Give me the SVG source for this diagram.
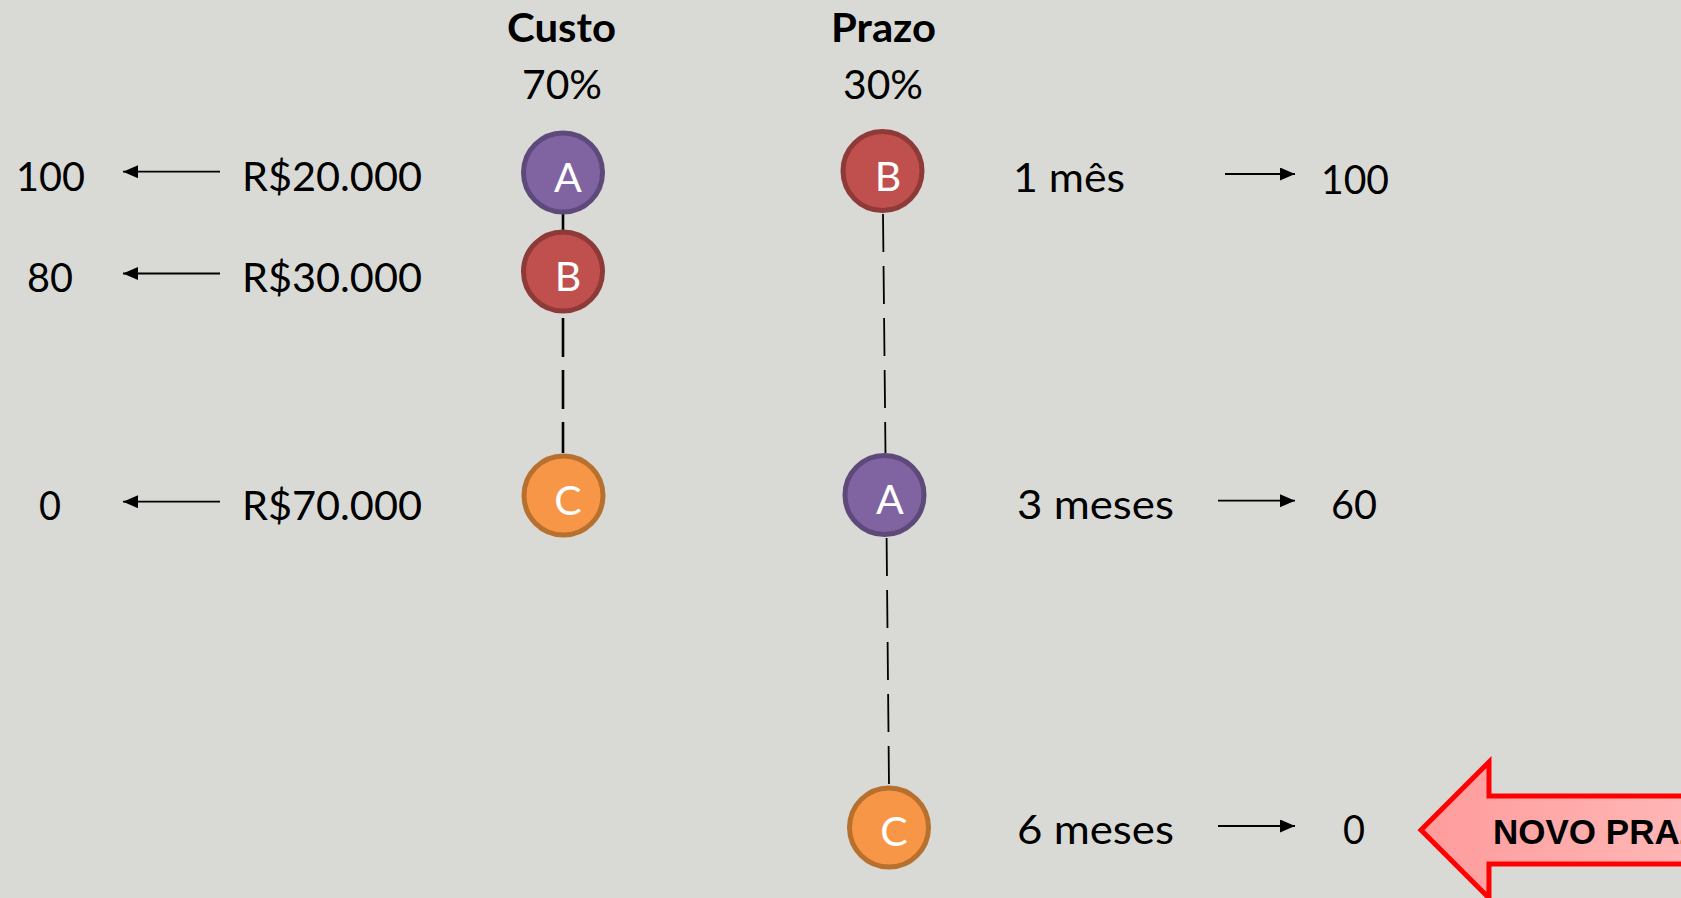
<svg xmlns="http://www.w3.org/2000/svg" width="1681" height="898" viewBox="0 0 1681 898">
<style>
.t{font-family:Lato,"Open Sans","Liberation Sans",sans-serif;font-size:41px;fill:#000}
.b{font-weight:bold}
.l{font-family:Lato,"Open Sans","Liberation Sans",sans-serif;font-size:41px;fill:#fff;text-anchor:middle}
.arr{stroke:#000;stroke-width:1.8;fill:none;marker-end:url(#ah)}
.solid{stroke:#000;stroke-width:2.6;fill:none}
.dash1{stroke:#000;stroke-width:2.6;fill:none;stroke-dasharray:39 13}
.dash2{stroke:#000;stroke-width:1.8;fill:none;stroke-dasharray:38 14}
.cA{fill:#8064A2;stroke:#5E4A7A;stroke-width:5}
.cB{fill:#C0504D;stroke:#8E3A38;stroke-width:5}
.cC{fill:#F79646;stroke:#B8702F;stroke-width:5}
</style>
<defs>
<marker id="ah" markerUnits="userSpaceOnUse" markerWidth="16" markerHeight="14" refX="15" refY="6.5" orient="auto">
<path d="M0,0 L15,6.5 L0,13 z" fill="#000"/>
</marker>
<linearGradient id="rg" gradientUnits="userSpaceOnUse" x1="1420" y1="0" x2="1800" y2="0">
<stop offset="0" stop-color="#FF9B9B"/>
<stop offset="1" stop-color="#FFC2C2"/>
</linearGradient>
</defs>
<rect x="0" y="0" width="1681" height="898" fill="#D9DAD5"/>

<g id="headers">
<text class="t b" x="507" y="42" textLength="109" lengthAdjust="spacingAndGlyphs">Custo</text>
<text class="t" x="522" y="99" textLength="80" lengthAdjust="spacingAndGlyphs">70%</text>
<text class="t b" x="831" y="42" textLength="105" lengthAdjust="spacingAndGlyphs">Prazo</text>
<text class="t" x="843" y="99" textLength="80" lengthAdjust="spacingAndGlyphs">30%</text>
</g>

<g id="connectors">
<line class="solid" x1="563" y1="214" x2="563" y2="230"/>
<line class="dash1" x1="563" y1="318" x2="563" y2="453"/>
<line class="dash2" x1="883" y1="214" x2="885.5" y2="453"/>
<line class="dash2" x1="886.6" y1="538" x2="889" y2="785"/>
<line class="arr" x1="220" y1="171.7" x2="123" y2="171.7"/>
<line class="arr" x1="220" y1="273.5" x2="123" y2="273.5"/>
<line class="arr" x1="220" y1="501.7" x2="123" y2="501.7"/>
<line class="arr" x1="1225" y1="174" x2="1295" y2="174"/>
<line class="arr" x1="1218" y1="500.7" x2="1295" y2="500.7"/>
<line class="arr" x1="1218" y1="826" x2="1295" y2="826"/>
</g>

<g id="custo-A"><circle class="cA" cx="563" cy="172.5" r="39.5"/><text class="l" x="568" y="192">A</text></g>
<g id="custo-B"><circle class="cB" cx="563" cy="271.5" r="39.5"/><text class="l" x="568" y="291">B</text></g>
<g id="custo-C"><circle class="cC" cx="563.5" cy="495.5" r="39.5"/><text class="l" x="568" y="515">C</text></g>
<g id="prazo-B"><circle class="cB" cx="882.5" cy="171" r="39.5"/><text class="l" x="888" y="191">B</text></g>
<g id="prazo-A"><circle class="cA" cx="884.5" cy="495" r="39.5"/><text class="l" x="890" y="514">A</text></g>
<g id="prazo-C"><circle class="cC" cx="889" cy="827.5" r="39.5"/><text class="l" x="894" y="846">C</text></g>

<g id="custo-labels">
<text class="t" x="16" y="191" textLength="69" lengthAdjust="spacingAndGlyphs">100</text>
<text class="t" x="242" y="191" textLength="180" lengthAdjust="spacingAndGlyphs">R$20.000</text>
<text class="t" x="27" y="292" textLength="46" lengthAdjust="spacingAndGlyphs">80</text>
<text class="t" x="242" y="292" textLength="180" lengthAdjust="spacingAndGlyphs">R$30.000</text>
<text class="t" x="39" y="520" textLength="22" lengthAdjust="spacingAndGlyphs">0</text>
<text class="t" x="242" y="520" textLength="180" lengthAdjust="spacingAndGlyphs">R$70.000</text>
</g>

<g id="prazo-labels">
<text class="t" x="1013" y="192" textLength="112" lengthAdjust="spacingAndGlyphs">1 mês</text>
<text class="t" x="1321" y="194" textLength="68" lengthAdjust="spacingAndGlyphs">100</text>
<text class="t" x="1017" y="519" textLength="157" lengthAdjust="spacingAndGlyphs">3 meses</text>
<text class="t" x="1331" y="519" textLength="46" lengthAdjust="spacingAndGlyphs">60</text>
<text class="t" x="1017" y="844" textLength="157" lengthAdjust="spacingAndGlyphs">6 meses</text>
<text class="t" x="1343" y="844" textLength="22" lengthAdjust="spacingAndGlyphs">0</text>
</g>

<g id="novo-prazo">
<polygon points="1421,830 1489,762 1489,796 1720,796 1720,864 1489,864 1489,898" fill="url(#rg)" stroke="#FF0000" stroke-width="5" stroke-linejoin="miter"/>
<text x="1493" y="844" font-family="'Liberation Sans',Arial,sans-serif" font-weight="bold" font-size="35" fill="#000">NOVO PRAZO</text>
</g>
</svg>
